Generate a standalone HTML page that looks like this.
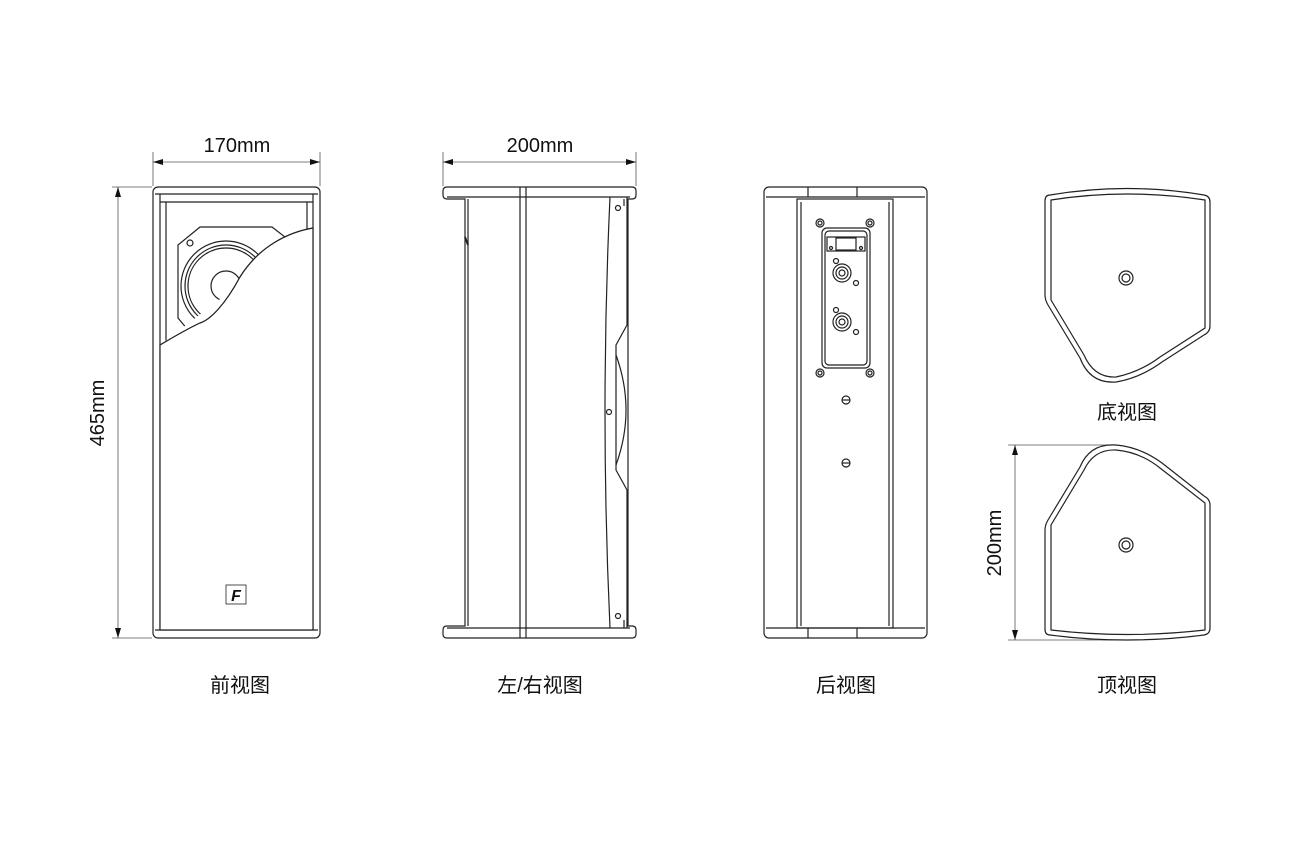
<!DOCTYPE html>
<html><head><meta charset="utf-8"><style>
html,body{margin:0;padding:0;background:#fff;}
svg{display:block;}
text{font-family:"Liberation Sans","Noto Sans CJK SC",sans-serif;fill:#111;}
</style></head><body>
<svg width="1300" height="849" viewBox="0 0 1300 849" xmlns="http://www.w3.org/2000/svg">
<defs>
<marker id="ar" viewBox="0 0 10 6" refX="10" refY="3" markerWidth="10" markerHeight="6" orient="auto-start-reverse" markerUnits="userSpaceOnUse"><path d="M0,0 L10,3 L0,6 Z" fill="#111"/></marker>
</defs>
<g fill="none" stroke="#222" stroke-width="1.2">
<!-- dimension lines -->
<g stroke="#555" stroke-width="0.8">
<line x1="153" y1="152" x2="153" y2="186"/><line x1="320" y1="152" x2="320" y2="186"/>
<line x1="153" y1="162" x2="320" y2="162" marker-start="url(#ar)" marker-end="url(#ar)"/>
<line x1="443" y1="152" x2="443" y2="186"/><line x1="636" y1="152" x2="636" y2="186"/>
<line x1="443" y1="162" x2="636" y2="162" marker-start="url(#ar)" marker-end="url(#ar)"/>
<line x1="112" y1="187" x2="152" y2="187"/><line x1="112" y1="638" x2="152" y2="638"/>
<line x1="118" y1="187" x2="118" y2="638" marker-start="url(#ar)" marker-end="url(#ar)"/>
<line x1="1008" y1="445" x2="1115" y2="445"/><line x1="1008" y1="640" x2="1115" y2="640"/>
<line x1="1015" y1="445" x2="1015" y2="640" marker-start="url(#ar)" marker-end="url(#ar)"/>
</g>
<!-- FRONT VIEW -->
<rect x="153" y="187" width="167" height="451" rx="5"/>
<line x1="155" y1="194" x2="318" y2="194"/>
<line x1="160" y1="202" x2="313" y2="202"/>
<line x1="155" y1="630" x2="318" y2="630"/>
<line x1="160" y1="194" x2="160" y2="630"/>
<line x1="313" y1="194" x2="313" y2="630"/>
<line x1="166" y1="202" x2="166" y2="345"/>
<line x1="307" y1="202" x2="307" y2="230"/>
<path d="M200,227 L272,227 L285,237 L282,300 L200,340 L188,330 L178,318 L178,245 Z"/>
<circle cx="226" cy="286" r="45"/>
<circle cx="226" cy="286" r="41"/>
<circle cx="226" cy="286" r="38"/>
<circle cx="226" cy="286" r="15"/>
<circle cx="190" cy="243" r="3"/><circle cx="190" cy="332" r="3"/>
<path d="M313,228 C290,232 260,245 240,277 C225,305 210,320 200,323 C185,330 172,338 160,345" fill="#fff" stroke="#222"/>
<path d="M160,345 L160,630 L313,630 L313,228 C290,232 260,245 240,277 C225,305 210,320 200,323 C185,330 172,338 160,345 Z" fill="#fff" stroke="#222"/>
<rect x="226" y="585" width="20" height="19" stroke-width="0.8"/>
<text x="236" y="601" text-anchor="middle" font-size="16" font-weight="bold" stroke="none" font-style="italic">F</text>
<!-- SIDE VIEW -->
<path d="M447,187 L632,187 Q636,187 636,191 L636,195 Q636,199 632,199 L628,199 L628,626 L632,626 Q636,626 636,630 L636,634 Q636,638 632,638 L447,638 Q443,638 443,634 L443,630 Q443,626 447,626 L465,626 L465,199 L447,199 Q443,199 443,195 L443,191 Q443,187 447,187 Z"/>
<line x1="447" y1="197" x2="630" y2="197"/>
<line x1="447" y1="628" x2="630" y2="628"/>
<line x1="468" y1="199" x2="468" y2="626"/>
<line x1="465" y1="237" x2="468" y2="245" stroke-width="2"/>
<line x1="520" y1="187" x2="520" y2="638"/>
<line x1="526" y1="187" x2="526" y2="638"/>
<path d="M610,197 Q600,412 610,628"/>
<path d="M627,197 L627,325 L616,345 L616,470 L627,490 L627,628"/>
<path d="M616,355 Q636,410 616,465"/>
<line x1="624" y1="199" x2="624" y2="206"/>
<line x1="624" y1="620" x2="624" y2="628"/>
<circle cx="618" cy="208" r="2.5"/><circle cx="609" cy="412" r="2.5"/><circle cx="618" cy="616" r="2.5"/>
<!-- BACK VIEW -->
<rect x="764" y="187" width="163" height="451" rx="5"/>
<line x1="766" y1="197" x2="925" y2="197"/>
<line x1="766" y1="628" x2="925" y2="628"/>
<line x1="808" y1="187" x2="808" y2="197"/><line x1="857" y1="187" x2="857" y2="197"/>
<line x1="808" y1="628" x2="808" y2="638"/><line x1="857" y1="628" x2="857" y2="638"/>
<rect x="797" y="199" width="96" height="429"/>
<line x1="801" y1="202" x2="801" y2="626"/>
<line x1="889" y1="202" x2="889" y2="626"/>
<rect x="822" y="228" width="48" height="140" rx="5"/>
<rect x="825" y="231" width="42" height="134" rx="4"/>
<circle cx="820" cy="223" r="4"/><circle cx="820" cy="223" r="2"/>
<circle cx="870" cy="223" r="4"/><circle cx="870" cy="223" r="2"/>
<circle cx="820" cy="373" r="4"/><circle cx="820" cy="373" r="2"/>
<circle cx="870" cy="373" r="4"/><circle cx="870" cy="373" r="2"/>
<rect x="827" y="237" width="38" height="14"/>
<rect x="836" y="238" width="20" height="12"/>
<circle cx="831" cy="248" r="1.5"/><circle cx="861" cy="248" r="1.5"/>
<circle cx="842" cy="273" r="9"/><circle cx="842" cy="273" r="6"/><circle cx="842" cy="273" r="3"/>
<circle cx="836" cy="261" r="2.5"/><circle cx="856" cy="283" r="2.5"/>
<circle cx="842" cy="322" r="9"/><circle cx="842" cy="322" r="6"/><circle cx="842" cy="322" r="3"/>
<circle cx="836" cy="310" r="2.5"/><circle cx="856" cy="332" r="2.5"/>
<circle cx="846" cy="400" r="4"/><line x1="842" y1="400" x2="850" y2="400"/>
<circle cx="846" cy="463" r="4"/><line x1="842" y1="463" x2="850" y2="463"/>
<!-- BOTTOM VIEW -->
<path d="M1050,195 Q1127,182 1204,195 Q1210,196 1210,202 L1210,326 Q1210,332 1204,335 L1162,362 Q1140,378 1116,382 Q1090,384 1080,358 L1048,305 Q1045,300 1045,295 L1045,201 Q1045,195 1050,195 Z"/>
<path d="M1051,200 Q1127,188 1205,200 L1205,328 L1160,357 Q1140,372 1116,377 Q1094,378 1084,355 L1051,300 Z"/>
<circle cx="1126" cy="278" r="7"/><circle cx="1126" cy="278" r="4"/>
<!-- TOP VIEW -->
<path d="M1050,635 Q1127,645 1204,635 Q1210,634 1210,628 L1210,505 Q1210,499 1204,496 L1162,463 Q1140,447 1116,445 Q1090,443 1080,467 L1048,520 Q1045,525 1045,530 L1045,629 Q1045,635 1050,635 Z"/>
<path d="M1051,630 Q1127,639 1205,630 L1205,503 L1160,468 Q1140,452 1116,450 Q1094,449 1084,470 L1051,525 Z"/>
<circle cx="1126" cy="545" r="7"/><circle cx="1126" cy="545" r="4"/>
</g>
<!-- labels -->
<text x="237" y="152" text-anchor="middle" font-size="20">170mm</text>
<text x="540" y="152" text-anchor="middle" font-size="20">200mm</text>
<text transform="translate(104,413) rotate(-90)" text-anchor="middle" font-size="20">465mm</text>
<text transform="translate(1001,543) rotate(-90)" text-anchor="middle" font-size="20">200mm</text>
<text x="240" y="692" text-anchor="middle" font-size="20">前视图</text>
<text x="540" y="692" text-anchor="middle" font-size="20">左/右视图</text>
<text x="846" y="692" text-anchor="middle" font-size="20">后视图</text>
<text x="1127" y="419" text-anchor="middle" font-size="20">底视图</text>
<text x="1127" y="692" text-anchor="middle" font-size="20">顶视图</text>
</svg>
</body></html>
